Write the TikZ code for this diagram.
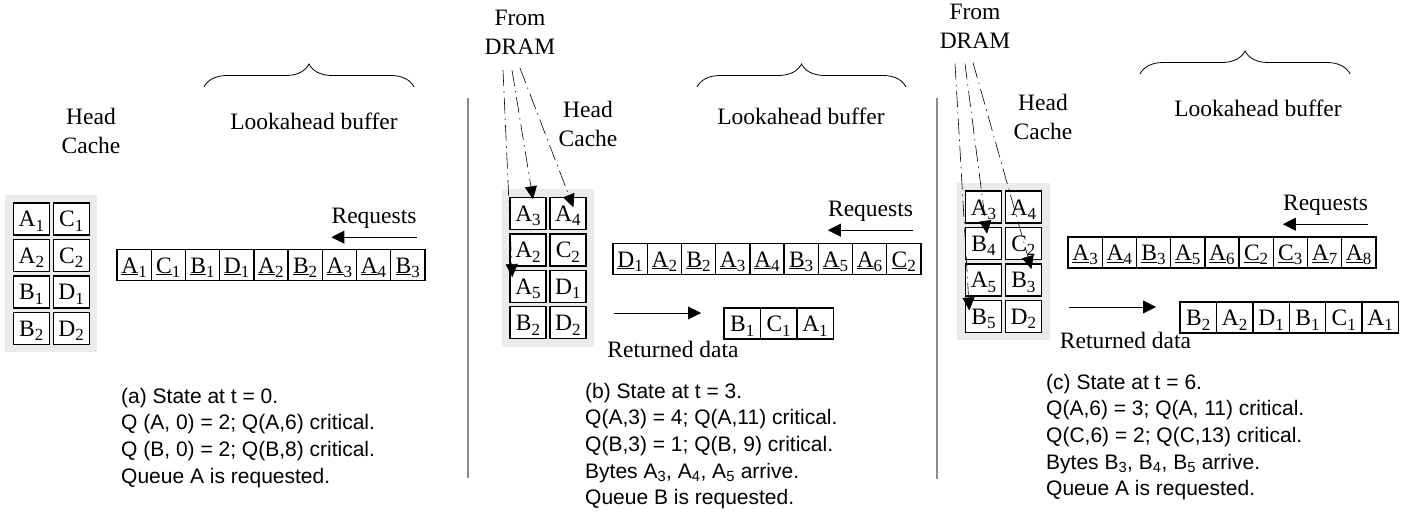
\documentclass[tikz,border=0pt]{standalone}
\usepackage{fontspec}
\setmainfont{Liberation Serif}
\newfontfamily\arialfont{Liberation Sans}
\usetikzlibrary{positioning,arrows.meta,decorations.pathreplacing,fit,backgrounds}

\newcommand{\cellfont}{\fontsize{23.5}{29}\selectfont}
\newcommand{\notefont}{\arialfont\fontsize{21}{26.7}\selectfont}
\newcommand{\subfig}[1]{\raisebox{-4.5pt}{\fontsize{17}{17}\selectfont#1}}
\newcommand{\qb}[2]{#1\subfig{#2}}
\newcommand{\uqb}[2]{\underline{#1}\subfig{#2}}

\tikzset{
  cachecell/.style={draw, line width=1.4pt, fill=white, minimum width=36pt,
    minimum height=32pt, inner sep=0pt, font=\cellfont,
    text height=20pt, text depth=4pt},
  bufcell/.style={cachecell, minimum width=34.2pt, minimum height=31pt},
  retcell/.style={cachecell, minimum width=36.4pt, minimum height=31pt},
  cachebg/.style={fill=black!8, inner sep=7.5pt},
  lbl/.style={font=\cellfont, inner sep=0pt},
  note/.style={font=\notefont, inner sep=0pt, align=left, anchor=north west},
  reqarrow/.style={line width=0.8pt, -{Triangle[length=13pt,width=13pt]}},
  dramarrow/.style={line width=0.6pt, dash pattern=on 16pt off 5pt on 1.5pt off 5pt,
    -{Triangle[length=13pt,width=12pt]}},
  bufbrace/.style={line width=0.8pt, decorate, decoration={brace, amplitude=23pt}},
  sepline/.style={line width=1.6pt, black!45}
}

\begin{document}
\begin{tikzpicture}[x=1pt,y=-1pt]
\useasboundingbox (0,0) rectangle (1419,513);

% ---------- (a) t = 0 ----------
\node[cachecell] (a11) at (31.3,219) {\qb A1};
\node[cachecell, right=2.5pt of a11] (a12) {\qb C1};
\node[cachecell, below=3pt of a11] (a21) {\qb A2};
\node[cachecell, right=2.5pt of a21] (a22) {\qb C2};
\node[cachecell, below=3pt of a21] (a31) {\qb B1};
\node[cachecell, right=2.5pt of a31] (a32) {\qb D1};
\node[cachecell, below=3pt of a31] (a41) {\qb B2};
\node[cachecell, right=2.5pt of a41] (a42) {\qb D2};
\begin{scope}[on background layer]
  \node[cachebg, fit=(a11)(a42)] (bga) {};
\end{scope}
\node[lbl, align=center] (heada) at (91,130.5) {Head\\Cache};

\draw[bufbrace] (204,87) -- (414,87);
\node[lbl, anchor=base] (bufa) at (314,130) {Lookahead buffer};
\node[lbl, anchor=base] (reqa) at (374,224) {Requests};
\draw[reqarrow] ([yshift=-8pt]reqa.south east) -- ([yshift=-8pt]reqa.south west);
\foreach \q/\n [count=\i] in {A/1,C/1,B/1,D/1,A/2,B/2,A/3,A/4,B/3}
  \node[bufcell] (la\i) at (99.9+34.2*\i,265) {\uqb{\q}{\n}};

\node[note] (notea) at (121,387.7) {(a) State at t = 0.\\
  Q (A, 0) = 2; Q(A,6) critical.\\
  Q (B, 0) = 2; Q(B,8) critical.\\
  Queue A is requested.};

\draw[sepline] (468,98) -- (468,478);

% ---------- (b) t = 3 ----------
\node[lbl, align=center] (fromb) at (520,32.7) {From\\DRAM};
\node[cachecell] (b11) at (528,213.5) {\qb A3};
\node[cachecell, right=2.5pt of b11] (b12) {\qb A4};
\node[cachecell, below=3pt of b11] (b21) {\qb A2};
\node[cachecell, right=2.5pt of b21] (b22) {\qb C2};
\node[cachecell, below=3pt of b21] (b31) {\qb A5};
\node[cachecell, right=2.5pt of b31] (b32) {\qb D1};
\node[cachecell, below=3pt of b31] (b41) {\qb B2};
\node[cachecell, right=2.5pt of b41] (b42) {\qb D2};
\begin{scope}[on background layer]
  \node[cachebg, fit=(b11)(b42)] (bgb) {};
\end{scope}
\node[lbl, align=center] (headb) at (588,124) {Head\\Cache};

\draw[dramarrow] ([shift={(-17,15)}]fromb.south) -- ([shift={(3,7.5)}]b31.north west);
\draw[dramarrow] ([shift={(-8,15)}]fromb.south) -- ([shift={(5,2.5)}]b11.north);
\draw[dramarrow] ([shift={(0,13)}]fromb.south) -- ([shift={(5.5,10.5)}]b12.north);

\draw[bufbrace] (697,87) -- (906,87);
\node[lbl, anchor=base] (bufb) at (801,125) {Lookahead buffer};
\node[lbl, anchor=base] (reqb) at (870.5,217) {Requests};
\draw[reqarrow] ([yshift=-8pt]reqb.south east) -- ([yshift=-8pt]reqb.south west);
\foreach \q/\n [count=\i] in {D/1,A/2,B/2,A/3,A/4,B/3,A/5,A/6,C/2}
  \node[bufcell] (lb\i) at (595.9+34.2*\i,259) {\uqb{\q}{\n}};

\coordinate (outb) at (614,313);
\draw[reqarrow] (outb) -- ++(87,0);
\foreach \q/\n [count=\i] in {B/1,C/1,A/1}
  \node[retcell] (rb\i) at (705.8+36.4*\i,323.5) {\qb{\q}{\n}};
\node[lbl, anchor=base] (retb) at (673,357) {Returned data};

\node[note] (noteb) at (585,382.7) {(b) State at t = 3.\\
  Q(A,3) = 4; Q(A,11) critical.\\
  Q(B,3) = 1; Q(B, 9) critical.\\
  Bytes A\textsubscript{3}, A\textsubscript{4}, A\textsubscript{5} arrive.\\
  Queue B is requested.};

\draw[sepline] (937,98) -- (937,479);

% ---------- (c) t = 6 ----------
\node[lbl, align=center] (fromc) at (975,26.2) {From\\DRAM};
\node[cachecell] (c11) at (983.5,207) {\qb A3};
\node[cachecell, right=2.5pt of c11] (c12) {\qb A4};
\node[cachecell, below=3pt of c11] (c21) {\qb B4};
\node[cachecell, right=2.5pt of c21] (c22) {\qb C2};
\node[cachecell, below=3pt of c21] (c31) {\qb A5};
\node[cachecell, right=2.5pt of c31] (c32) {\qb B3};
\node[cachecell, below=3pt of c31] (c41) {\qb B5};
\node[cachecell, right=2.5pt of c41] (c42) {\qb D2};
\begin{scope}[on background layer]
  \node[cachebg, fit=(c11)(c42)] (bgc) {};
\end{scope}
\node[lbl, align=center] (headc) at (1043,116.5) {Head\\Cache};

\draw[dramarrow] ([shift={(-20,15)}]fromc.south) -- ([shift={(4.5,11)}]c41.north west);
\draw[dramarrow] ([shift={(-10,15)}]fromc.south) -- ([shift={(3.5,7)}]c21.north);
\draw[dramarrow] ([shift={(-2,14)}]fromc.south) -- ([shift={(8,6)}]c32.north);

\draw[bufbrace] (1140,74) -- (1350,74);
\node[lbl, anchor=base] (bufc) at (1258,117) {Lookahead buffer};
\node[lbl, anchor=base] (reqc) at (1325.5,211) {Requests};
\draw[reqarrow] ([yshift=-8pt]reqc.south east) -- ([yshift=-8pt]reqc.south west);
\foreach \q/\n [count=\i] in {A/3,A/4,B/3,A/5,A/6,C/2,C/3,A/7,A/8}
  \node[bufcell] (lc\i) at (1050.9+34.2*\i,252.5) {\uqb{\q}{\n}};

\coordinate (outc) at (1069,307);
\draw[reqarrow] (outc) -- ++(87,0);
\foreach \q/\n [count=\i] in {B/2,A/2,D/1,B/1,C/1,A/1}
  \node[retcell] (rc\i) at (1161.8+36.4*\i,317.5) {\qb{\q}{\n}};
\node[lbl, anchor=base] (retc) at (1125.5,348) {Returned data};

\node[note] (notec) at (1046,373.7) {(c) State at t = 6.\\
  Q(A,6) = 3; Q(A, 11) critical.\\
  Q(C,6) = 2; Q(C,13) critical.\\
  Bytes B\textsubscript{3}, B\textsubscript{4}, B\textsubscript{5} arrive.\\
  Queue A is requested.};
\end{tikzpicture}
\end{document}
